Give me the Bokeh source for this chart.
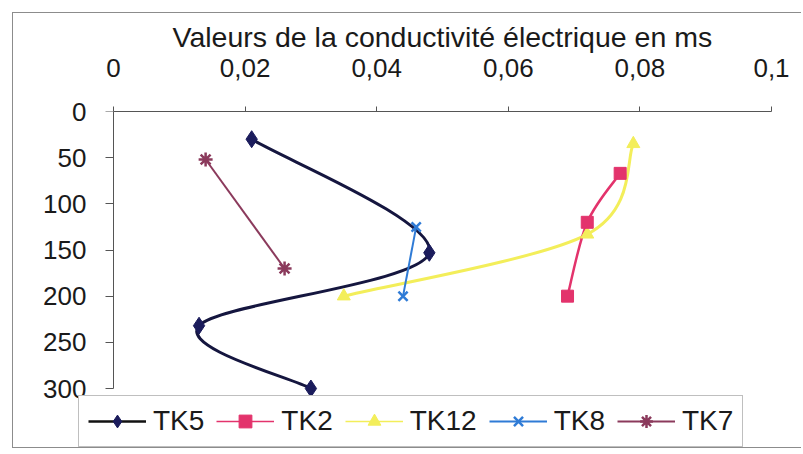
from bokeh.plotting import figure
from bokeh.models import Range1d, FixedTicker, Legend, LegendItem, ColumnDataSource, LinearAxis
from bokeh.embed import file_html
from bokeh.resources import INLINE

# ---- data ----
x_title = "Valeurs de la conductivité électrique en ms"
xtick_vals = [0, 0.02, 0.04, 0.06, 0.08, 0.1]
xtick_labels = ["0", "0,02", "0,04", "0,06", "0,08", "0,1"]
ytick_vals = [0, 50, 100, 150, 200, 250, 300]

series_names = ["TK5", "TK2", "TK12", "TK8", "TK7"]
tk5_x = [0.021, 0.048, 0.013, 0.030]
tk5_y = [30, 153, 232, 300]
tk2_x = [0.077, 0.072, 0.069]
tk2_y = [67, 120, 200]
tk12_x = [0.079, 0.072, 0.035]
tk12_y = [35, 133, 200]
tk8_x = [0.046, 0.044]
tk8_y = [125, 200]
tk7_x = [0.014, 0.026]
tk7_y = [52, 170]

FONT = "Liberation Sans"
TXT = "#1a1a1a"
AXC = "#555555"
BORDER = "1px solid #8c8c8c"

# ---- layout (pixels, canvas coordinates; canvas starts at page 13,13) ----
W, H = 789, 436
AX_LEFT_PX = 100           # where x = 0 sits
AX_W_PX = 658              # x from 0 to 0.1
AX_TOP_PX = 98             # where y = 0 sits
AX_H_PX = 277              # y from 0 to 300
FRAME_LEFT = 65            # frame widened so the legend can sit below the axes
FRAME_BOTTOM_GAP = 2
YLAB_RIGHT = 73            # right edge of the y tick labels (as set in Bokeh)
x_unit = 0.1 / AX_W_PX
y_unit = 300.0 / AX_H_PX
frame_h = H - AX_TOP_PX - FRAME_BOTTOM_GAP
x_start = -(AX_LEFT_PX - FRAME_LEFT) * x_unit
y_bottom = frame_h * y_unit


def smooth_segments(xs, ys, k=1.0 / 6.0):
    """Bezier control points (Excel-like smoothed line) from the data points."""
    n = len(xs)
    d = dict(x0=[], y0=[], x1=[], y1=[], cx0=[], cy0=[], cx1=[], cy1=[])
    for i in range(n - 1):
        xp, yp = (xs[i - 1], ys[i - 1]) if i > 0 else (xs[i], ys[i])
        xn, yn = (xs[i + 2], ys[i + 2]) if i + 2 < n else (xs[i + 1], ys[i + 1])
        d["x0"].append(xs[i]); d["y0"].append(ys[i])
        d["x1"].append(xs[i + 1]); d["y1"].append(ys[i + 1])
        d["cx0"].append(xs[i] + (xs[i + 1] - xp) * k)
        d["cy0"].append(ys[i] + (ys[i + 1] - yp) * k)
        d["cx1"].append(xs[i + 1] - (xn - xs[i]) * k)
        d["cy1"].append(ys[i + 1] - (yn - ys[i]) * k)
    return ColumnDataSource(d)


p = figure(width=W, height=H,
           x_range=Range1d(x_start, 0.1), y_range=Range1d(y_bottom, 0),
           x_axis_location="above",
           output_backend="svg", toolbar_location=None,
           min_border_left=FRAME_LEFT, min_border_right=W - AX_LEFT_PX - AX_W_PX,
           min_border_top=AX_TOP_PX, min_border_bottom=FRAME_BOTTOM_GAP)
p.styles = {"margin-left": "12px", "margin-top": "12px",
            "border-left": BORDER, "border-top": BORDER, "border-bottom": BORDER}
p.outline_line_color = None
p.xgrid.visible = False
p.ygrid.visible = False
p.background_fill_color = "white"
p.border_fill_color = "white"

# title of the x axis (as plot title, so it can be centred on the axis itself)
p.title.text = x_title
p.title.align = "left"
p.title.offset = 94
p.title.standoff = 5
p.title.text_font = FONT
p.title.text_font_size = "28.5px"
p.title.text_font_style = "normal"
p.title.text_color = TXT

xa = p.xaxis[0]
xa.ticker = FixedTicker(ticks=xtick_vals)
xa.bounds = (xtick_vals[0], xtick_vals[-1])
xa.major_label_overrides = {v: l for v, l in zip(xtick_vals, xtick_labels)}
xa.major_label_text_font = FONT
xa.major_label_text_font_size = "26px"
xa.major_label_text_color = TXT
xa.major_label_standoff = 30
xa.major_tick_out = 5
xa.major_tick_in = 0
xa.minor_tick_out = 0
xa.minor_tick_in = 0
xa.axis_line_color = AXC
xa.major_tick_line_color = AXC

# y axis in the side panel: labels only
ya = p.yaxis[0]
ya.ticker = FixedTicker(ticks=ytick_vals)
ya.bounds = (ytick_vals[0], ytick_vals[-1])
ya.major_label_text_font = FONT
ya.major_label_text_font_size = "26px"
ya.major_label_text_color = TXT
ya.major_tick_out = 0
ya.major_tick_in = 0
ya.minor_tick_out = 0
ya.minor_tick_in = 0
ya.major_label_standoff = -(YLAB_RIGHT - FRAME_LEFT)
ya.axis_line_color = None
ya.major_tick_line_color = None

# y axis line and ticks at x = 0
ya2 = LinearAxis(fixed_location=0, ticker=FixedTicker(ticks=ytick_vals),
                 bounds=(ytick_vals[0], ytick_vals[-1]),
                 major_tick_out=8, major_tick_in=0, minor_tick_out=0, minor_tick_in=0,
                 major_label_text_font_size="1px", major_label_text_color=None,
                 major_label_standoff=0,
                 axis_line_color=AXC, major_tick_line_color=AXC)
p.add_layout(ya2, "left")

# ---- series ----
c5, c2, c12, c8, c7 = "#1b1c5c", "#e3336c", "#f3ee5a", "#2f7bd6", "#8b3a5c"

p.bezier(x0="x0", y0="y0", x1="x1", y1="y1", cx0="cx0", cy0="cy0", cx1="cx1", cy1="cy1",
         source=smooth_segments(tk12_x, tk12_y), line_color=c12, line_width=3)
p.bezier(x0="x0", y0="y0", x1="x1", y1="y1", cx0="cx0", cy0="cy0", cx1="cx1", cy1="cy1",
         source=smooth_segments(tk2_x, tk2_y), line_color=c2, line_width=2.5)
p.bezier(x0="x0", y0="y0", x1="x1", y1="y1", cx0="cx0", cy0="cy0", cx1="cx1", cy1="cy1",
         source=smooth_segments(tk5_x, tk5_y), line_color="#15163f", line_width=3)
l8 = p.line(tk8_x, tk8_y, line_color=c8, line_width=2)
l7 = p.line(tk7_x, tk7_y, line_color=c7, line_width=2)

# legend line samples for the smoothed series (a single point draws nothing on the plot)
g5 = p.line(tk5_x[:1], tk5_y[:1], line_color="#111111", line_width=2.5)
g2 = p.line(tk2_x[:1], tk2_y[:1], line_color=c2, line_width=1.5)
g12 = p.line(tk12_x[:1], tk12_y[:1], line_color=c12, line_width=1.5)

m12 = p.scatter(tk12_x, tk12_y, marker="triangle", size=13, fill_color=c12, line_color=c12)
m2 = p.scatter(tk2_x, tk2_y, marker="square", size=12, fill_color=c2, line_color=c2)
m5 = p.scatter(tk5_x, tk5_y, marker="diamond", size=17, fill_color=c5, line_color=c5)
m8 = p.scatter(tk8_x, tk8_y, marker="x", size=13, line_color=c8, line_width=2.5)
m7 = p.scatter(tk7_x, tk7_y, marker="asterisk", size=14, line_color=c7, line_width=2.5)

items = [
    LegendItem(label=series_names[0], renderers=[g5, m5]),
    LegendItem(label=series_names[1], renderers=[g2, m2]),
    LegendItem(label=series_names[2], renderers=[g12, m12]),
    LegendItem(label=series_names[3], renderers=[l8, m8]),
    LegendItem(label=series_names[4], renderers=[l7, m7]),
]
legend = Legend(items=items, orientation="horizontal", location=(0, 0),
                glyph_width=58, glyph_height=32, label_standoff=7, spacing=12,
                padding=9, margin=0,
                label_text_font=FONT, label_text_font_size="28px", label_text_color=TXT,
                border_line_color="#7f7f7f", border_line_width=1,
                background_fill_color="white", background_fill_alpha=1.0)
p.add_layout(legend, "center")

open("out.html", "w").write(file_html(p, INLINE))
